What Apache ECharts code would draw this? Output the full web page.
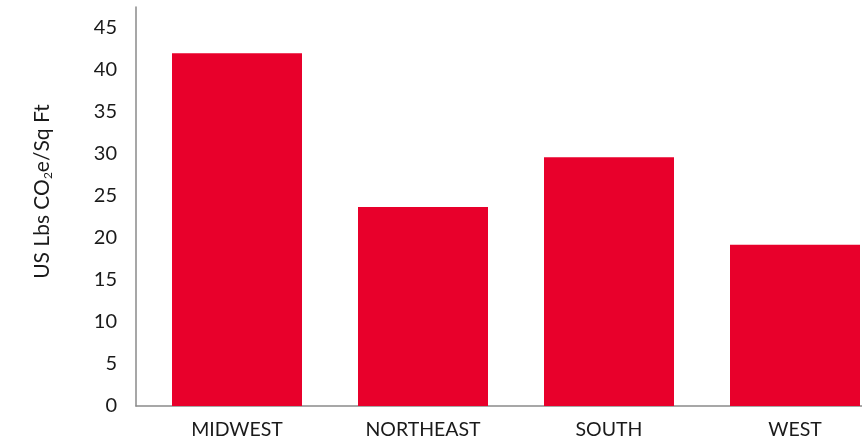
<!DOCTYPE html>
<html>
<head>
<meta charset="utf-8">
<script src="https://cdn.jsdelivr.net/npm/echarts@6/dist/echarts.min.js"></script>
<style>html,body{margin:0;padding:0;background:#fff;}#c{width:862px;height:442px;}</style>
</head>
<body>
<div id="c"></div>
<script>
const categories = ['MIDWEST', 'NORTHEAST', 'SOUTH', 'WEST'];
const values = [42.0, 23.7, 29.6, 19.2];
const yTicks = [0, 5, 10, 15, 20, 25, 30, 35, 40, 45];

const FONT = 'Lato';
const chart = echarts.init(document.getElementById('c'), null, {renderer: 'canvas'});
chart.setOption({
  animation: false,
  backgroundColor: '#ffffff',
  grid: [
    {left: 144, width: 744, top: 7, bottom: 36, containLabel: false, outerBoundsMode: 'none'},
    {left: 136, right: 0, top: 7, bottom: 36, containLabel: false, outerBoundsMode: 'none'}
  ],
  xAxis: [
    {
      type: 'category', gridIndex: 0, data: categories,
      axisLine: {show: false}, axisTick: {show: false},
      axisLabel: {color: '#1a1a1a', fontFamily: FONT, fontSize: 19.5, margin: 14}
    },
    {
      type: 'value', gridIndex: 1, min: 0, max: 1,
      axisLine: {show: true, lineStyle: {color: '#8a8a8a', width: 1.5}},
      axisTick: {show: false}, axisLabel: {show: false}, splitLine: {show: false}
    }
  ],
  yAxis: [
    {
      type: 'value', gridIndex: 0, min: 0, max: 47.5, interval: 5,
      axisLine: {show: false}, axisTick: {show: false}, axisLabel: {show: false}, splitLine: {show: false}
    },
    {
      type: 'value', gridIndex: 1, min: 0, max: 47.5, interval: 5,
      axisLine: {show: true, lineStyle: {color: '#8a8a8a', width: 1.5}},
      axisTick: {show: false}, splitLine: {show: false},
      axisLabel: {
        color: '#1a1a1a', fontFamily: FONT, fontSize: 20, margin: 19,
        showMaxLabel: false,
        formatter: v => (yTicks.indexOf(v) >= 0 ? String(v) : '')
      },
      name: 'US Lbs CO{sub|2}e/Sq Ft',
      nameLocation: 'middle', nameRotate: 90, nameGap: 82,
      nameTextStyle: {
        color: '#1a1a1a', fontFamily: FONT, fontSize: 21, padding: [0, 0, 0, 30],
        rich: {sub: {fontFamily: FONT, fontSize: 12, padding: [12, 0, 0, 0], color: '#1a1a1a'}}
      }
    }
  ],
  series: [{
    type: 'bar', xAxisIndex: 0, yAxisIndex: 0,
    data: values, barWidth: 130,
    itemStyle: {color: '#E8002B'}
  }]
});
</script>
</body>
</html>
